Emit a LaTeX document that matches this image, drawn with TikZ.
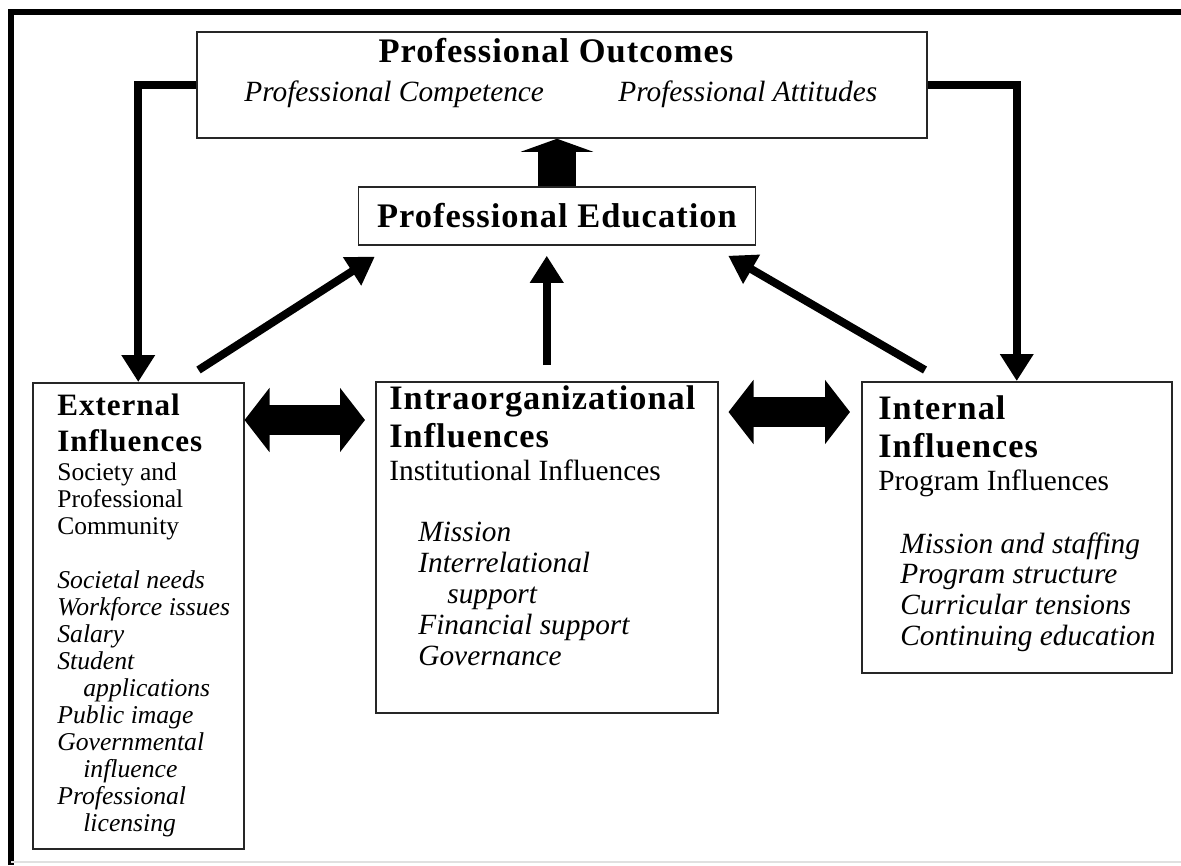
\documentclass[tikz,border=0pt]{standalone}
\usepackage{fontspec}
\setmainfont{Liberation Serif}
\newfontfamily\headfont{Liberation Serif}[LetterSpace=3]
\usetikzlibrary{positioning,calc,arrows.meta}

\tikzset{
    box/.style={draw=black!85, line width=0.3mm, inner sep=0pt},
    link/.style={line width=1.6mm, -{Triangle[length=5.4mm,width=6.4mm]}},
    bigarrow/.style={line width=7.6mm, -{Triangle[length=2.6mm,width=14.4mm]}},
    dblarrow/.style={line width=6mm, {Triangle[length=5mm,width=12.6mm]}-{Triangle[length=5mm,width=12.6mm]}},
    title/.style={font=\headfont\bfseries\fontsize{19.6}{21.6}\selectfont, inner sep=0pt},
    head/.style={font=\headfont\bfseries\fontsize{19.5}{21.6}\selectfont, align=left, anchor=north west, inner sep=0pt},
    smallhead/.style={font=\headfont\bfseries\fontsize{17.7}{20.5}\selectfont, align=left, anchor=north west, inner sep=0pt},
    body/.style={font=\fontsize{16.7}{17.6}\selectfont, align=left, anchor=north west, inner sep=0pt},
    items/.style={font=\fontsize{16.7}{17.6}\selectfont\itshape, align=left, anchor=north west, inner sep=0pt},
    smallbody/.style={font=\fontsize{14.5}{15.4}\selectfont, align=left, anchor=north west, inner sep=0pt},
    smallitems/.style={font=\fontsize{14.6}{15.4}\selectfont\itshape, align=left, anchor=north west, inner sep=0pt},
    outcitem/.style={font=\fontsize{16.7}{17.6}\selectfont\itshape, anchor=base west, inner sep=0pt}
}

\begin{document}
\begin{tikzpicture}[x=0.2mm, y=-0.2mm]
    \useasboundingbox (0,0) rectangle (1181,865);

    % outer frame
    \draw[line width=1.3mm] (11,865) -- (11,12) -- (1181,12);
    \draw[black!12, line width=0.5mm] (11,862) -- (1181,862);

    % outcomes and education
    \node[box, minimum width=146mm, minimum height=21.2mm] (outc) at (562,85) {};
    \node[title, anchor=base] (outctitle) at (556,62) {Professional Outcomes};
    \node[outcitem] (compet) at (244,101) {Professional Competence};
    \node[outcitem] (attit) at (618,101) {Professional Attitudes};

    \node[box, title, minimum width=79.4mm, minimum height=11.6mm] (educ) at (557,216) {Professional Education};

    % the three influence boxes
    \node[box, minimum width=42.2mm, minimum height=93.2mm, anchor=north west] (ext) at (32,382) {};
    \node[box, minimum width=68.4mm, minimum height=66.2mm, anchor=north west] (intra) at (375,381) {};
    \node[box, minimum width=62mm, minimum height=58.2mm, anchor=north west] (intern) at (861,381) {};

    \node[smallhead] (exthead) at (57,394) {External\\Influences};
    \node[smallbody] (extsub) at (57,462) {Society and\\Professional\\Community};
    \node[smallitems] (extlist) at (57,570) {Societal needs\\Workforce issues\\Salary\\Student\\\hspace*{5.2mm}applications\\Public image\\Governmental\\\hspace*{5.2mm}influence\\Professional\\\hspace*{5.2mm}licensing};

    \node[head] (intrahead) at (389,385) {Intraorganizational\\Influences};
    \node[body] (intrasub) at (389,459) {Institutional Influences};
    \node[items] (intralist) at (418,522) {Mission\\Interrelational\\\hspace*{5.8mm}support\\Financial support\\Governance};

    \node[head] (interhead) at (878,395) {Internal\\Influences};
    \node[body] (intersub) at (878,469) {Program Influences};
    \node[items] (interlist) at (900,532) {Mission and staffing\\Program structure\\Curricular tensions\\Continuing education};

    % arrows
    \draw[link] (outc.west) -| (ext.north);
    \draw[link] (outc.east) -| (intern.north);
    \draw[bigarrow] (educ.north) -- (outc.south -| educ.north);
    \draw[link, shorten <=3.2mm, shorten >=2mm] (intra.north) -- (educ.south -| intra.north);
    \draw[link] ($(ext.north east)+(-46,-12)$) -- ($(educ.south west)+(17,11)$);
    \draw[link] ($(intern.north west)+(64,-11)$) -- ($(educ.south east)+(-28,10)$);
    \draw[dblarrow] ($(ext.north east)+(0,38)$) -- ($(intra.north west)+(-10,39)$);
    \draw[dblarrow] ($(intra.north east)+(10,31)$) -- ($(intern.north west)+(-11,31)$);
\end{tikzpicture}
\end{document}
